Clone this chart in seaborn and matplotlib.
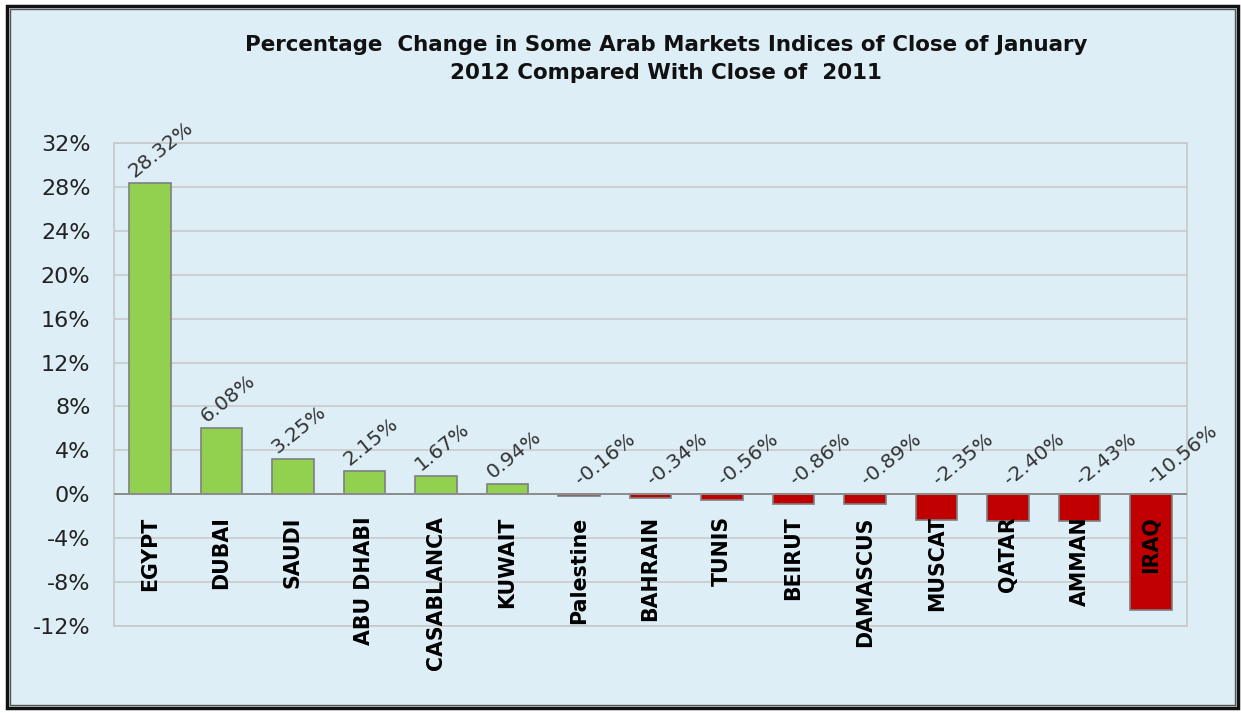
import matplotlib
matplotlib.use("Agg")
import matplotlib.pyplot as plt
import seaborn as sns
import pandas as pd
from matplotlib.patches import Rectangle

categories = ["EGYPT", "DUBAI", "SAUDI", "ABU DHABI", "CASABLANCA", "KUWAIT", "Palestine",
              "BAHRAIN", "TUNIS", "BEIRUT", "DAMASCUS", "MUSCAT", "QATAR", "AMMAN", "IRAQ"]
values = [28.32, 6.08, 3.25, 2.15, 1.67, 0.94, -0.16,
          -0.34, -0.56, -0.86, -0.89, -2.35, -2.40, -2.43, -10.56]
yticks = [-12, -8, -4, 0, 4, 8, 12, 16, 20, 24, 28, 32]
title = "Percentage  Change in Some Arab Markets Indices of Close of January\n2012 Compared With Close of  2011"

BG = "#DEEEF7"
GREEN = "#92D050"
RED = "#C00000"

sns.set_theme(style="white")
plt.rcParams["font.family"] = ["DejaVu Sans"]

fig = plt.figure(figsize=(12.41, 7.13), dpi=100)
fig.patch.set_facecolor("white")
# background panel and borders
fig.add_artist(Rectangle((7/1241, 5/713), 1231/1241, 702/713, transform=fig.transFigure,
                         facecolor=BG, edgecolor="#111111", linewidth=2.5, zorder=0))
fig.add_artist(Rectangle((10/1241, 8/713), 1225/1241, 696/713, transform=fig.transFigure,
                         facecolor="none", edgecolor="#555555", linewidth=1.0, zorder=0))

ax = fig.add_axes([114/1241, 87/713, 1073/1241, 483/713])
ax.set_facecolor(BG)
ax.patch.set_alpha(0.0)

df = pd.DataFrame({"market": categories, "value": values})
colors = {c: (GREEN if v >= 0 else RED) for c, v in zip(categories, values)}
sns.barplot(data=df, x="market", y="value", hue="market", palette=colors, legend=False,
            width=0.58, edgecolor="#7F7F7F", linewidth=1.2, saturation=1, ax=ax, zorder=3)

ax.set_ylim(-12, 32)
ax.set_xlim(-0.5, len(categories) - 0.5)
ax.set_yticks(yticks)
ax.set_yticklabels([f"{t}%" for t in yticks], fontsize=16, color="#222222")
ax.tick_params(axis="y", length=0, pad=17)
ax.set_xticks([])
ax.set_xlabel("")
ax.set_ylabel("")
ax.grid(axis="y", color="#C8C8C8", linewidth=1.1, zorder=0)
ax.set_axisbelow(True)
for s in ax.spines.values():
    s.set_color("#C8C8C8")
    s.set_linewidth(1.2)
ax.axhline(0, color="#8C8C8C", linewidth=1.4, zorder=4)

for i, (c, v) in enumerate(zip(categories, values)):
    ax.annotate(c, xy=(i, 0), xytext=(0, -22), textcoords="offset pixels",
                rotation=90, ha="center", va="top", fontsize=14.8, fontweight="bold",
                color="black", zorder=6)
    if v >= 0:
        ax.annotate(f"{v:.2f}%", xy=(i, v), xytext=(-15, 5), textcoords="offset pixels",
                    rotation=39, rotation_mode="anchor", ha="left", va="baseline",
                    fontsize=14.5, color="#333333", zorder=6)
    else:
        ax.annotate(f"{v:.2f}%", xy=(i, 0), xytext=(2, 8), textcoords="offset pixels",
                    rotation=39, rotation_mode="anchor", ha="left", va="baseline",
                    fontsize=14.5, color="#333333", zorder=6)

fig.text(666/1241, 1 - 59/713, title, ha="center", va="center", fontsize=15.4,
         fontweight="bold", color="#111111", linespacing=1.45)

fig.savefig("out.png", dpi=100, facecolor=fig.get_facecolor())
